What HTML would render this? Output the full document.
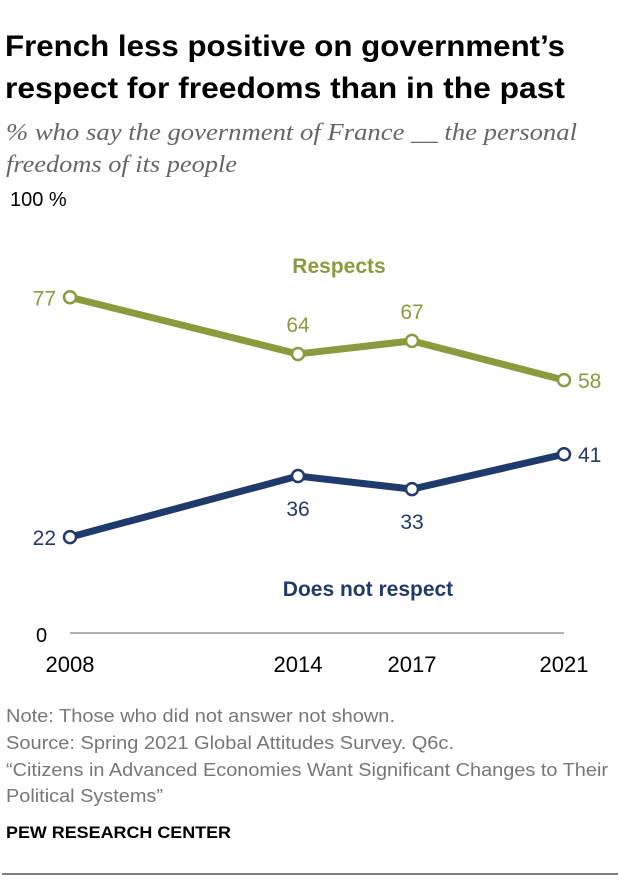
<!DOCTYPE html>
<html><head><meta charset="utf-8"><style>
body{margin:0;background:#fff;width:620px;height:878px;overflow:hidden;font-family:"Liberation Sans",sans-serif;}
</style></head><body>
<svg width="620" height="878" xmlns="http://www.w3.org/2000/svg">
<text x="5" y="56" font-size="30" font-weight="bold" fill="#000" textLength="560" lengthAdjust="spacingAndGlyphs">French less positive on government’s</text>
<text x="5" y="98" font-size="30" font-weight="bold" fill="#000" textLength="560" lengthAdjust="spacingAndGlyphs">respect for freedoms than in the past</text>
<text x="6" y="140" font-size="24" font-style="italic" font-family="Liberation Serif,serif" fill="#666" textLength="571" lengthAdjust="spacingAndGlyphs">% who say the government of France __ the personal</text>
<text x="6" y="172" font-size="24" font-style="italic" font-family="Liberation Serif,serif" fill="#666" textLength="231" lengthAdjust="spacingAndGlyphs">freedoms of its people</text>
<text x="10" y="206" font-size="20" fill="#000">100 %</text>
<text x="36" y="642" font-size="20" fill="#000">0</text>
<line x1="70" y1="633" x2="564" y2="633" stroke="#999" stroke-width="1.5"/>
<g id="plot"></g>
<text x="339" y="273" font-size="21" font-weight="bold" fill="#8c9a3e" text-anchor="middle">Respects</text>
<text x="368" y="596" font-size="21" font-weight="bold" fill="#1f3a6c" text-anchor="middle">Does not respect</text>
<text x="6" y="722" font-size="18" fill="#777" textLength="389" lengthAdjust="spacingAndGlyphs">Note: Those who did not answer not shown.</text>
<text x="6" y="749" font-size="18" fill="#777" textLength="448" lengthAdjust="spacingAndGlyphs">Source: Spring 2021 Global Attitudes Survey. Q6c.</text>
<text x="6" y="776" font-size="18" fill="#777" textLength="602" lengthAdjust="spacingAndGlyphs">“Citizens in Advanced Economies Want Significant Changes to Their</text>
<text x="6" y="802" font-size="18" fill="#777" textLength="157" lengthAdjust="spacingAndGlyphs">Political Systems”</text>
<text x="6" y="838" font-size="17" font-weight="bold" fill="#000" textLength="225" lengthAdjust="spacingAndGlyphs">PEW RESEARCH CENTER</text>
<line x1="2" y1="874" x2="618" y2="874" stroke="#000" stroke-width="1"/>
</svg>
<script>
const years=[2008,2014,2017,2021];
const respects=[77,64,67,58];
const notRespect=[22,36,33,41];
const NS="http://www.w3.org/2000/svg";
const g=document.getElementById('plot');
const x=y=>70+(y-2008)*38;
const yv=v=>633-v*4.36;
function mk(t,a){const e=document.createElementNS(NS,t);for(const k in a)e.setAttribute(k,a[k]);g.appendChild(e);return e;}
years.forEach(yr=>{
 const t=mk('text',{x:x(yr),y:672,'font-size':22,'text-anchor':'middle',fill:'#000'});
 t.textContent=yr;
 
 
});
function series(vals,color,name,labelPos){
 const p=mk('polyline',{points:vals.map((v,i)=>x(years[i])+','+yv(v)).join(' '),fill:'none',stroke:color,'stroke-width':7,'stroke-linejoin':'round'});
 
 
 vals.forEach((v,i)=>{
  const c=mk('circle',{cx:x(years[i]),cy:yv(v),r:6,fill:'#fff',stroke:color,'stroke-width':2.5});
  
  
  const lp=labelPos[i];
  const t=mk('text',{x:x(years[i])+lp[0],y:yv(v)+lp[1],'font-size':21,'text-anchor':lp[2],fill:color});
  t.textContent=v;
  
  
 });
}
series(respects,'#8c9a3e','respects',[[-14,8,'end'],[0,-22,'middle'],[0,-22,'middle'],[14,8,'start']]);
series(notRespect,'#1f3a6c','does-not-respect',[[-14,8,'end'],[0,40,'middle'],[0,40,'middle'],[14,8,'start']]);
</script>
</body></html>
